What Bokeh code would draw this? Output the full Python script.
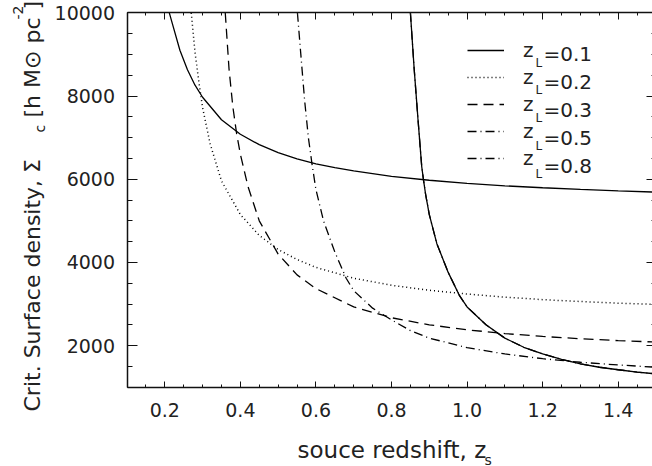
import math
from bokeh.plotting import figure
from bokeh.models import (LinearAxis, SingleIntervalTicker, Range1d, Label,
                          Legend, LegendItem, NumeralTickFormatter, CustomJSTickFormatter)
from bokeh.embed import file_html
from bokeh.resources import INLINE

# ---- data (source redshift vs critical surface density) ----
z_L01 = [0.212, 0.22, 0.24, 0.26, 0.28, 0.30, 0.35, 0.40, 0.45, 0.50, 0.55, 0.60, 0.65,
         0.70, 0.80, 0.90, 1.00, 1.10, 1.20, 1.30, 1.40, 1.50]
s_L01 = [10000, 9740, 9100, 8630, 8260, 7970, 7430, 7080, 6830, 6640, 6490, 6370, 6280,
         6200, 6070, 5975, 5900, 5840, 5795, 5755, 5720, 5690]

z_L02 = [0.27, 0.28, 0.29, 0.30, 0.32, 0.35, 0.40, 0.45, 0.50, 0.55, 0.60, 0.70,
         0.80, 0.90, 1.00, 1.10, 1.20, 1.30, 1.40, 1.50]
s_L02 = [10000, 9050, 8350, 7720, 6850, 5960, 5150, 4650, 4310, 4070, 3880, 3620,
         3450, 3330, 3240, 3165, 3105, 3060, 3020, 2990]

z_L03 = [0.36, 0.37, 0.38, 0.39, 0.40, 0.42, 0.45, 0.50, 0.55, 0.60, 0.70, 0.80,
         0.90, 1.00, 1.10, 1.20, 1.30, 1.40, 1.50]
s_L03 = [10000, 8650, 7750, 7100, 6600, 5830, 5000, 4200, 3700, 3370, 2930, 2670,
         2500, 2380, 2290, 2220, 2165, 2120, 2085]

z_L05 = [0.551, 0.56, 0.57, 0.58, 0.59, 0.60, 0.62, 0.65, 0.68, 0.70, 0.75, 0.80,
         0.85, 0.90, 1.00, 1.10, 1.20, 1.30, 1.40, 1.50]
s_L05 = [10000, 9000, 7900, 7000, 6340, 5750, 5000, 4250, 3620, 3320, 2900, 2620,
         2360, 2180, 1950, 1800, 1685, 1600, 1535, 1480]

z_L08 = [0.85, 0.86, 0.87, 0.88, 0.885, 0.89, 0.90, 0.92, 0.95, 0.98, 1.00, 1.05, 1.10,
         1.15, 1.20, 1.25, 1.30, 1.35, 1.40, 1.45, 1.50]
s_L08 = [10000, 8650, 7450, 6300, 5960, 5650, 5150, 4450, 3760, 3200, 2930, 2500, 2180,
         1960, 1800, 1670, 1560, 1480, 1420, 1365, 1320]

lens_labels = ["=0.1", "=0.2", "=0.3", "=0.5", "=0.8"]

X_LO, X_HI = 0.1, 1.5
Y_LO, Y_HI = 1000, 10000

FONT = "DejaVu Sans"
TXT = "#222222"
FS = "19px"     # tick labels
FT = "22px"     # y title
FX = "23px"     # x title
FSUB = "14px"   # sub/superscripts
W, H = 652, 466

# the frame fills the whole canvas; axes are pinned at the data box edges
p = figure(width=W, height=H, x_range=Range1d(-0.2348, 1.4907), y_range=Range1d(-906, 10296),
           output_backend="svg", toolbar_location=None,
           x_axis_location=None, y_axis_location=None,
           min_border_left=0, min_border_right=0, min_border_top=0, min_border_bottom=0)
p.grid.visible = False
p.outline_line_color = None
p.background_fill_color = "white"
p.border_fill_color = "white"

blank = CustomJSTickFormatter(code="return ''")

def make_axis(side, loc, bounds, interval, major_in, minor_in, labels, line=True):
    ax = LinearAxis(ticker=SingleIntervalTicker(interval=interval, num_minor_ticks=4),
                    fixed_location=loc, bounds=bounds)
    ax.axis_line_color = "#111111" if line else None
    ax.axis_line_width = 1.5
    ax.major_tick_in = major_in
    ax.major_tick_out = 0
    ax.minor_tick_in = minor_in
    ax.minor_tick_out = 0
    ax.major_tick_line_color = "#111111"
    ax.minor_tick_line_color = "#111111"
    ax.major_tick_line_width = 1
    ax.minor_tick_line_width = 1
    if labels:
        ax.major_label_text_font = FONT
        ax.major_label_text_font_size = FS
        ax.major_label_text_color = TXT
    else:
        ax.formatter = blank
        ax.major_label_standoff = 0
    p.add_layout(ax, side)
    return ax

xa = make_axis("below", Y_LO, (X_LO, X_HI), 0.2, 6, 3, True)
xa.formatter = NumeralTickFormatter(format="0.0")
xa.major_label_standoff = 16
ya = make_axis("left", X_LO, (Y_LO, Y_HI), 2000, 10, 5, True)
ya.major_label_standoff = 12
make_axis("above", Y_HI, (X_LO, X_HI), 0.2, 7, 3, False)
make_axis("right", X_HI, (Y_LO, Y_HI), 2000, 10, 5, False, line=True)

lw = 1.3
r1 = p.line(z_L01, s_L01, line_color="black", line_width=lw)
r2 = p.line(z_L02, s_L02, line_color="black", line_width=1.5, line_dash="1 3")
r3 = p.line(z_L03, s_L03, line_color="black", line_width=lw, line_dash="10 6")
r5 = p.line(z_L05, s_L05, line_color="black", line_width=lw, line_dash="9 4 1 4")
# key style for z_L=0.8 (hidden beneath the solid curve, which is how the reference draws it)
r8_key = p.line(z_L08, s_L08, line_color="black", line_width=lw, line_dash="9 4 1 4")
r8 = p.line(z_L08, s_L08, line_color="black", line_width=lw)

legend = Legend(items=[LegendItem(label="z", renderers=[r]) for r in [r1, r2, r3, r5, r8_key]],
                location=(467, 296), orientation="vertical",
                glyph_width=37, glyph_height=22, label_height=22, label_width=10,
                spacing=3, padding=0, margin=0, label_standoff=19,
                label_text_font=FONT, label_text_font_size="20px", label_text_color=TXT,
                border_line_color=None, background_fill_alpha=0)
p.add_layout(legend)

def clabel(text, x, y, size, angle=0.0):
    p.add_layout(Label(x=x, y=y, x_units="canvas", y_units="canvas", text=text, angle=angle,
                       text_font=FONT, text_font_size=size, text_color=TXT,
                       text_baseline="alphabetic", text_align="left"))

# legend text pieces: subscript L and the value
for i, t in enumerate(lens_labels):
    clabel(t, 543, 53.5 + 27.9 * i, "20px")
    clabel("L", 535, 62 + 27.9 * i, "12px")

# x axis title
clabel("souce redshift, z", 297, 449, FX)
clabel("s", 484, 459, FSUB)

# y axis title (rotated, reading upwards, centred on the axis)
ang = math.pi / 2
clabel("Crit. Surface density, Σ", 32, 411, FT, ang)
clabel("c", 39, 132, FSUB, ang)
clabel("[h M⊙ pc", 32, 117, FT, ang)
clabel("-2", 17, 19, FSUB, ang)
clabel("]", 32, 9, FT, ang)

open("out.html", "w").write(file_html(p, INLINE))
